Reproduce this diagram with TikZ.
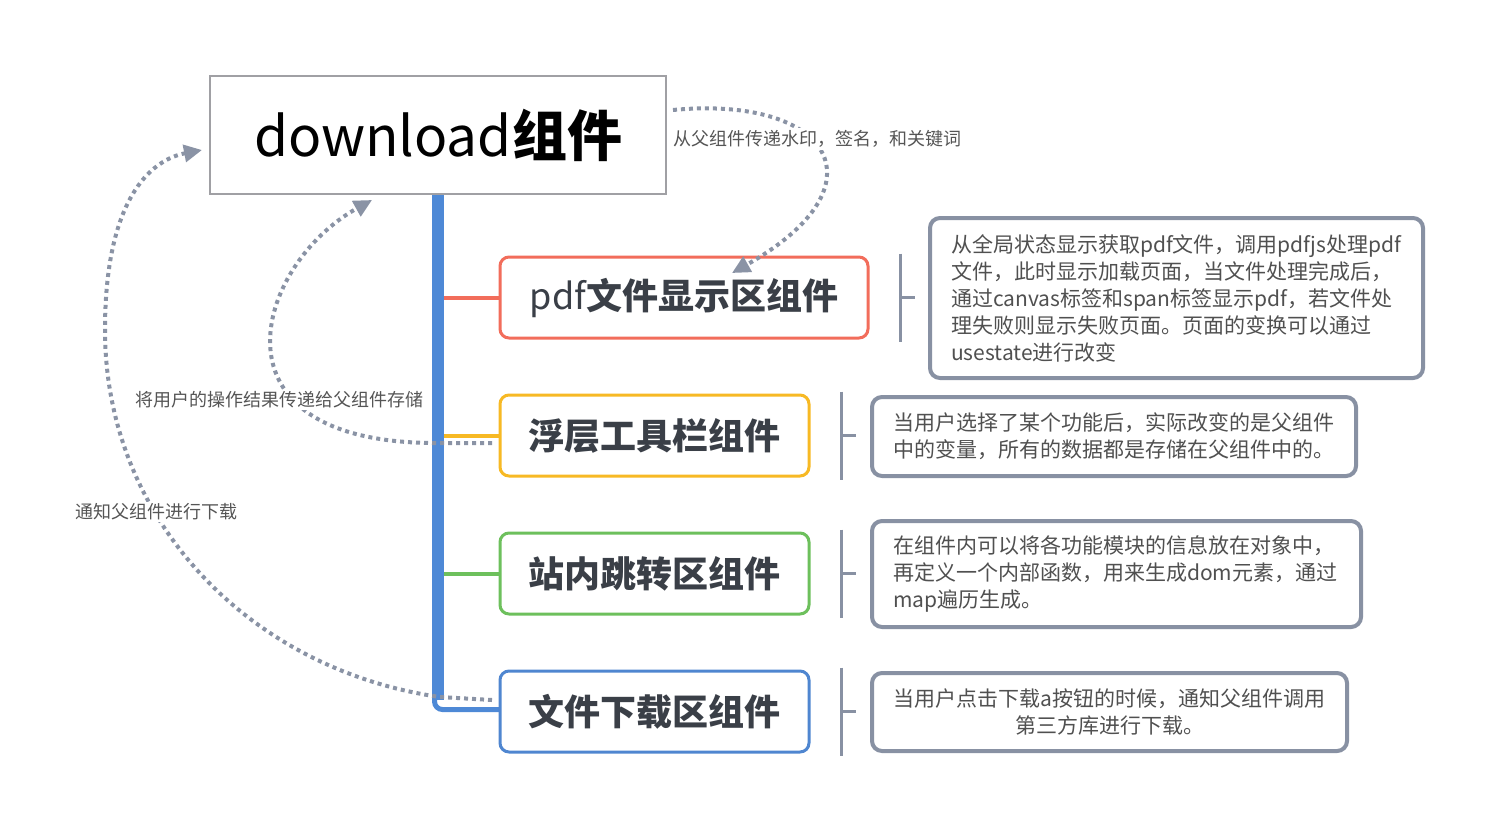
\documentclass[tikz,border=0pt]{standalone}
\usepackage{fontspec}
\setmainfont{Noto Sans CJK SC}
\usetikzlibrary{arrows.meta}
\definecolor{trunkblue}{HTML}{4E89D6}
\definecolor{bred}{HTML}{F26D5B}
\definecolor{byellow}{HTML}{F7B924}
\definecolor{bgreen}{HTML}{6DC05C}
\definecolor{bblue}{HTML}{4F86D0}
\definecolor{notegray}{HTML}{8891A3}
\definecolor{dotgray}{HTML}{8A93A5}
\definecolor{rootgray}{HTML}{A0A0A4}
\definecolor{boxtext}{HTML}{3A3F47}
\definecolor{notetext}{HTML}{505050}
\definecolor{labeltext}{HTML}{555555}
\begin{document}
\begin{tikzpicture}[x=1pt,y=-1pt,
  rootbox/.style={draw=rootgray, line width=1.5pt, fill=white, minimum width=456pt, minimum height=118pt, inner sep=0pt},
  branchbox/.style={draw=#1, line width=3pt, rounded corners=9pt, fill=white, minimum height=81pt, inner sep=0pt, text=boxtext, font=\fontsize{36}{40}\selectfont},
  notebox/.style={draw=notegray, line width=4pt, rounded corners=10pt, fill=white, inner xsep=21pt, inner ysep=0pt, text=notetext, font=\fontsize{21}{27}\selectfont},
  branchline/.style={line width=4pt, draw=#1},
  bracketline/.style={line width=2.5pt, draw=notegray},
  dotarrow/.style={draw=dotgray, line width=4pt, dash pattern=on 4pt off 4pt, -{Triangle[length=18pt,width=17pt]}, fill=none},
  edgelabel/.style={fill=white, text=labeltext, font=\fontsize{18}{22}\selectfont, inner sep=2pt}
]
\useasboundingbox (0,0) rectangle (1498,828);

% trunk
\draw[line width=12pt, trunkblue] (438,194) -- (438,700);
\draw[line width=5pt, trunkblue, rounded corners=8pt] (434.5,690) |- (500,709.5);

% root
\node[rootbox] (root) at (438,135) {\fontsize{55}{60}\selectfont download{\bfseries 组件}};

% branch boxes
\node[branchbox=bred, minimum width=368pt] (b1) at (684,297.5) {pdf{\bfseries 文件显示区组件}};
\node[branchbox=byellow, minimum width=309pt] (b2) at (654.5,435.5) {\bfseries 浮层工具栏组件};
\node[branchbox=bgreen, minimum width=309pt] (b3) at (654.5,573.5) {\bfseries 站内跳转区组件};
\node[branchbox=bblue, minimum width=309pt] (b4) at (654.5,711.5) {\bfseries 文件下载区组件};

% branch lines
\draw[branchline=bred] (b1.west -| 444,0) -- (b1.west);
\draw[branchline=byellow] (b2.west -| 444,0) -- (b2.west);
\draw[branchline=bgreen] (b3.west -| 444,0) -- (b3.west);

% notes
\node[notebox, text width=451pt, minimum height=160pt, align=left] (n1) at (1176.5,298) {从全局状态显示获取pdf文件，调用pdfjs处理pdf\\文件，此时显示加载页面，当文件处理完成后，\\通过canvas标签和span标签显示pdf，若文件处\\理失败则显示失败页面。页面的变换可以通过\\usestate进行改变};
\node[notebox, text width=442pt, minimum height=79pt, align=left] (n2) at (1114,436.5) {当用户选择了某个功能后，实际改变的是父组件\\中的变量，所有的数据都是存储在父组件中的。};
\node[notebox, text width=447pt, minimum height=106pt, align=left] (n3) at (1116.5,574) {在组件内可以将各功能模块的信息放在对象中，\\再定义一个内部函数，用来生成dom元素，通过\\map遍历生成。};
\node[notebox, text width=433pt, minimum height=78pt, align=center] (n4) at (1109.5,712) {当用户点击下载a按钮的时候，通知父组件调用\\第三方库进行下载。};

% brackets
\foreach \b in {b1,b2,b3,b4}{
  \draw[bracketline] ([xshift=31pt,yshift=2pt]\b.north east) -- ([xshift=31pt,yshift=-2pt]\b.south east);
  \draw[bracketline] ([xshift=31pt]\b.east) -- ([xshift=45pt]\b.east);
}

% dotted arrows
\coordinate (a1s) at (673,110);
\coordinate (a1e) at (732,273);
\draw[dotarrow] (a1s) .. controls (830,95) and (888,185) .. (a1e);

\coordinate (a2s) at (492,443);
\coordinate (a2m) at (440,443);
\coordinate (a2e) at (372,200);
\draw[dotarrow] (a2s) -- (a2m) .. controls (200,445) and (255,265) .. (a2e);

\coordinate (a3s) at (492,700);
\coordinate (a3m) at (440,697);
\coordinate (a3k) at (105,330);
\coordinate (a3e) at (202,150);
\draw[dotarrow] (a3s) -- (a3m) .. controls (250,670) and (105,520) .. (a3k) .. controls (105,200) and (150,160) .. (a3e);

% labels
\node[edgelabel, anchor=west] (l1) at (671,139) {从父组件传递水印，签名，和关键词};
\node[edgelabel] (l2) at (279.5,400) {将用户的操作结果传递给父组件存储};
\node[edgelabel] (l3) at (156,512) {通知父组件进行下载};
\end{tikzpicture}
\end{document}
